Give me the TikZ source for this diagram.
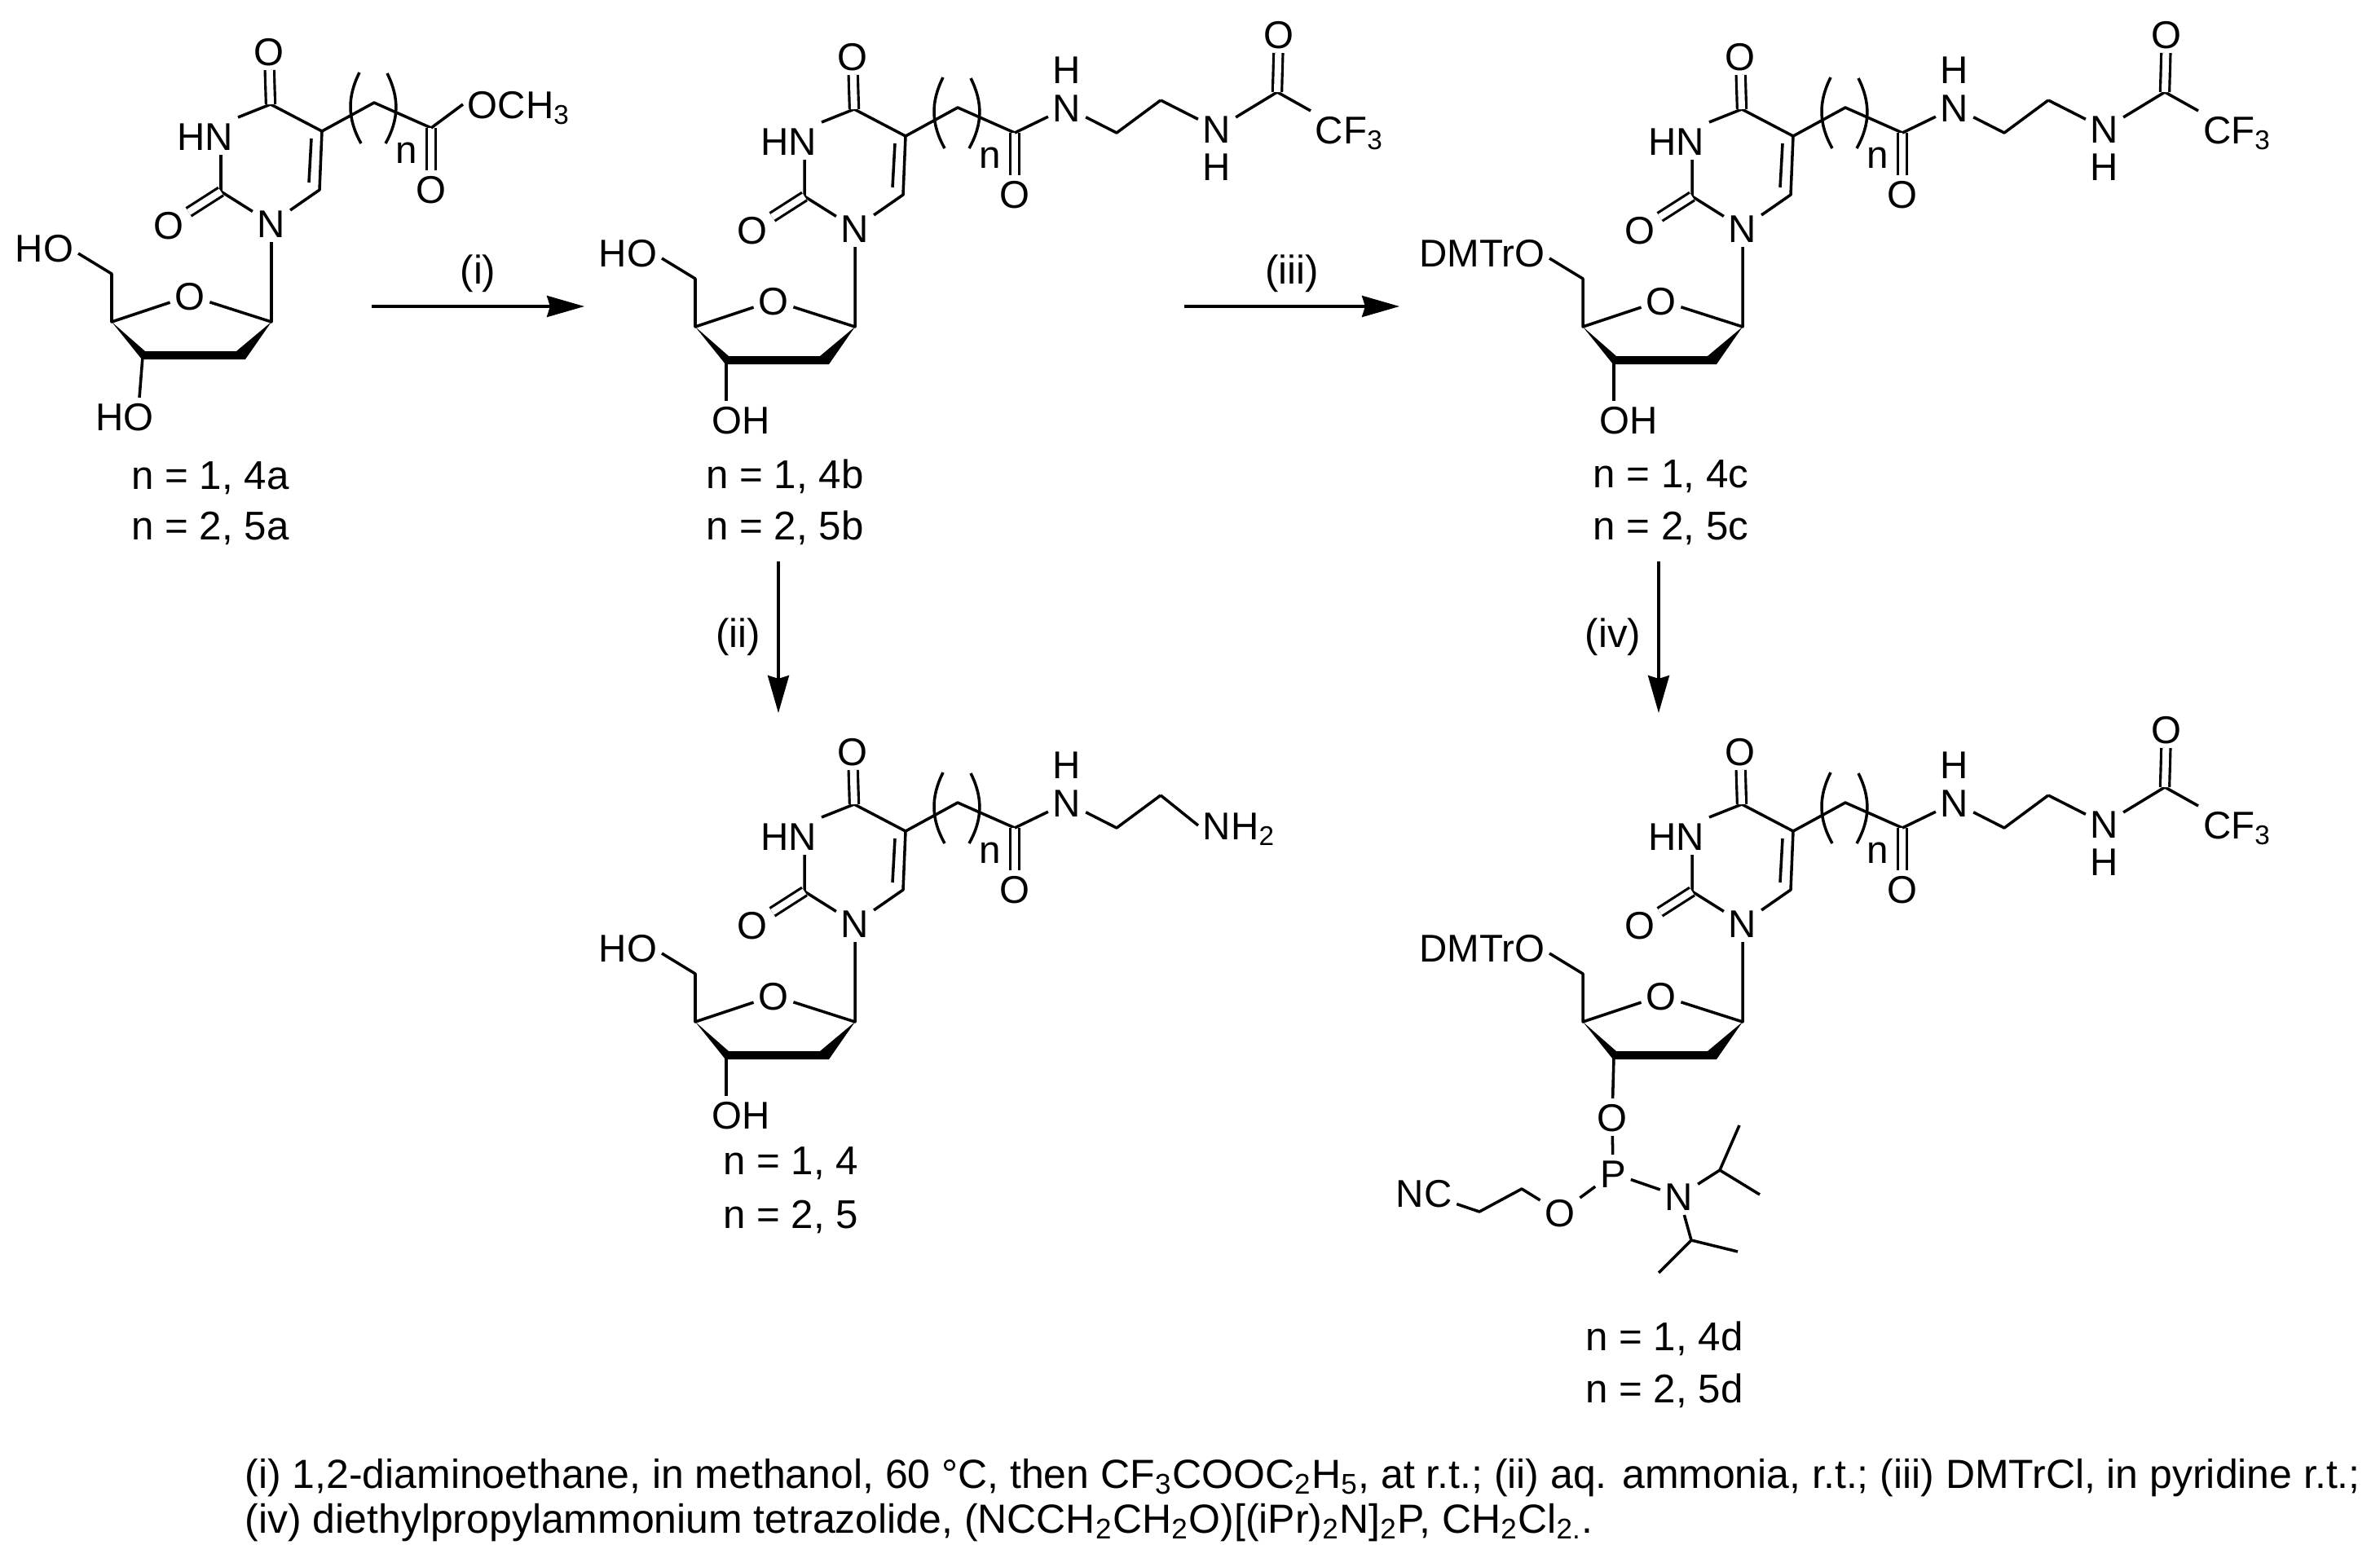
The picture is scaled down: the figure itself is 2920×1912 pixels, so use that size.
\documentclass[tikz,border=0pt]{standalone}
\usepackage{fontspec}
\setmainfont{Liberation Sans}
\usetikzlibrary{arrows.meta,positioning,calc}

\tikzset{
  atom/.style={inner sep=1.5pt, font=\fontsize{13.5}{15}\selectfont, text height=9.7pt, text depth=0pt},
  compound/.style={inner sep=0pt, font=\fontsize{14}{16}\selectfont},
  bond/.style={line width=1pt, line join=round},
  dbond/.style={double, double distance=2.3pt, line width=0.9pt},
  reaction/.style={line width=1pt, -{Stealth[length=0.46cm, width=0.26cm, inset=0.04cm]}},
  footnote/.style={inner sep=0pt, anchor=base west, font=\fontsize{14.2}{16}\selectfont}
}

\newcommand{\nucleoside}[2]{
  \node[atom] (#1O4) at (1046,69) {O};
  \coordinate (#1C4) at (1048,134);
  \coordinate (#1C5) at (1111,167);
  \coordinate (#1C6) at (1108,239);
  \coordinate (#1D5) at (1098,176);
  \coordinate (#1D6) at (1095,230);
  \node[atom] (#1N1) at (1049,280) {N};
  \coordinate (#1C2) at (987,241);
  \node[atom, anchor=east] (#1N3) at (1008,173) {HN};
  \node[atom] (#1O2) at (923,282) {O};
  \coordinate (#1C7) at (1175,132);
  \coordinate (#1C8) at (1245,163);
  \node[atom] (#1O8) at (1245,238) {O};
  \coordinate (#1BL) at (1157,95);
  \coordinate (#1BM) at (1159,182);
  \coordinate (#1BR) at (1191,96);
  \coordinate (#1BS) at (1189,182);
  \node[atom] (#1n) at (1215,189) {n};
  \coordinate (#1S1) at (1049,401);
  \node[atom] (#1S0) at (949,369) {O};
  \coordinate (#1S4) at (853,401);
  \coordinate (#1S3) at (891,444);
  \coordinate (#1S5) at (853,342);
  \coordinate (#1W1) at (894,437);
  \coordinate (#1W2) at (1006,437);
  \coordinate (#1W3) at (1017,447);
  \coordinate (#1W4) at (890,447);
  \node[atom, anchor=east] (#1O5) at (812,310) {#2};
  \draw[bond] (#1N1) -- (#1C6) -- (#1C5) -- (#1C4) -- (#1N3.north east);
  \draw[bond] (#1N3.south -| #1C2) -- (#1C2) -- (#1N1);
  \draw[bond] (#1D5) -- (#1D6);
  \draw[dbond] (#1C4) -- (#1O4);
  \draw[dbond] (#1C2) -- (#1O2);
  \draw[bond] (#1C5) -- (#1C7) -- (#1C8);
  \draw[dbond] (#1C8) -- (#1O8);
  \draw[bond] (#1BL) to[bend right=28] (#1BM);
  \draw[bond] (#1BR) to[bend left=28] (#1BS);
  \draw[bond] (#1N1) -- (#1S1) -- (#1S0) -- (#1S4) -- (#1S5) -- ([yshift=-0.07cm]#1O5.east);
  \fill (#1S4) -- (#1W1) -- (#1W2) -- (#1S1) -- (#1W3) -- (#1W4) -- cycle;
}

\newcommand{\amidechain}[1]{
  \node[atom] (#1N9) at (1309,132) {N};
  \node[atom, above=0pt of #1N9] (#1H9) {H};
  \coordinate (#1C10) at (1370,163);
  \coordinate (#1C11) at (1424,123);
  \draw[bond] (#1C8) -- (#1N9) -- (#1C10) -- (#1C11);
}

\newcommand{\tfacap}[1]{
  \node[atom] (#1N12) at (1493,158) {N};
  \node[atom, below=0pt of #1N12] (#1H12) {H};
  \coordinate (#1C13) at (1567,113);
  \node[atom] (#1O13) at (1569,42) {O};
  \node[atom, anchor=west] (#1CF) at (1608,159) {CF\textsubscript{3}};
  \draw[bond] (#1C11) -- (#1N12) -- (#1C13) -- (#1CF.north west);
  \draw[dbond] (#1C13) -- (#1O13);
}

\newcommand{\hydroxyl}[1]{
  \node[atom, anchor=west] (#1O3) at (868,515) {OH};
  \draw[bond] (#1S3) -- (#1O3.north -| #1S3);
}

\begin{document}
\begin{tikzpicture}[x=0.01cm, y=-0.01cm]
  \useasboundingbox (0,0) rectangle (2920,1912);

  \begin{scope}[shift={(-716,-6)}]
    \nucleoside{a}{HO}
    \node[atom, anchor=west] (aOM) at (1284,134) {OCH\textsubscript{3}};
    \node[atom] (aO3) at (869,517) {HO};
    \draw[bond] (aC8) -- (aOM.west);
    \draw[bond] (aS3) -- ([xshift=0.18cm]aO3.north);
  \end{scope}

  \nucleoside{b}{HO}
  \amidechain{b}
  \tfacap{b}
  \hydroxyl{b}

  \begin{scope}[shift={(1089,0)}]
    \nucleoside{c}{DMTrO}
    \amidechain{c}
    \tfacap{c}
    \hydroxyl{c}
  \end{scope}

  \begin{scope}[shift={(0,853)}]
    \nucleoside{d}{HO}
    \amidechain{d}
    \node[atom, anchor=west] (dNH) at (1470,160) {NH\textsubscript{2}};
    \draw[bond] (dC11) -- (dNH.west);
    \hydroxyl{d}
  \end{scope}

  \begin{scope}[shift={(1089,853)}]
    \nucleoside{e}{DMTrO}
    \amidechain{e}
    \tfacap{e}
  \end{scope}

  \node[atom] (eO3) at (1978,1371) {O};
  \node[atom] (eP) at (1979,1440) {P};
  \node[atom] (eN) at (2060,1468) {N};
  \node[atom] (eO) at (1914,1488) {O};
  \node[atom] (eNC) at (1747,1464) {NC};
  \coordinate (eC1) at (1867,1459);
  \coordinate (eC2) at (1815,1487);
  \coordinate (eI1) at (2110,1436);
  \coordinate (eI2) at (2134,1381);
  \coordinate (eI3) at (2159,1466);
  \coordinate (eJ1) at (2075,1522);
  \coordinate (eJ2) at (2132,1536);
  \coordinate (eJ3) at (2035,1562);
  \draw[bond] (eS3) -- (eO3) -- (eP) -- (eN) -- (eI1) -- (eI2);
  \draw[bond] (eI1) -- (eI3);
  \draw[bond] (eN) -- (eJ1) -- (eJ2);
  \draw[bond] (eJ1) -- (eJ3);
  \draw[bond] (eP) -- (eO) -- (eC1) -- (eC2) -- (eNC);

  \coordinate (r1a) at (456,376);
  \coordinate (r1b) at (717,376);
  \coordinate (r2a) at (955,689);
  \coordinate (r2b) at (955,875);
  \coordinate (r3a) at (1453,376);
  \coordinate (r3b) at (1717,376);
  \coordinate (r4a) at (2035,689);
  \coordinate (r4b) at (2035,875);
  \draw[reaction] (r1a) -- (r1b) node[midway, above=0.16cm, compound] (r1) {(i)};
  \draw[reaction] (r2a) -- (r2b) node[midway, left=0.2cm, compound] (r2) {(ii)};
  \draw[reaction] (r3a) -- (r3b) node[midway, above=0.16cm, compound] (r3) {(iii)};
  \draw[reaction] (r4a) -- (r4b) node[midway, left=0.2cm, compound] (r4) {(iv)};

  \node[compound] (a4) at (258,587) {n = 1, 4a};
  \node[compound] (a5) at (258,648) {n = 2, 5a};
  \node[compound] (b4) at (963,585) {n = 1, 4b};
  \node[compound] (b5) at (963,648) {n = 2, 5b};
  \node[compound] (c4) at (2050,585) {n = 1, 4c};
  \node[compound] (c5) at (2050,648) {n = 2, 5c};
  \node[compound] (d4) at (970,1428) {n = 1, 4};
  \node[compound] (d5) at (970,1493) {n = 2, 5};
  \node[compound] (e4) at (2042,1643) {n = 1, 4d};
  \node[compound] (e5) at (2042,1707) {n = 2, 5d};

  \node[footnote] (foot1) at (300,1826) {(i) 1,2-diaminoethane, in methanol, 60 °C, then CF\textsubscript{3}COOC\textsubscript{2}H\textsubscript{5}, at r.t.; (ii) aq. ammonia, r.t.; (iii) DMTrCl, in pyridine r.t.;};
  \node[footnote] (foot2) at (300,1881) {(iv) diethylpropylammonium tetrazolide, (NCCH\textsubscript{2}CH\textsubscript{2}O)[(iPr)\textsubscript{2}N]\textsubscript{2}P, CH\textsubscript{2}Cl\textsubscript{2.}.};
\end{tikzpicture}
\end{document}
